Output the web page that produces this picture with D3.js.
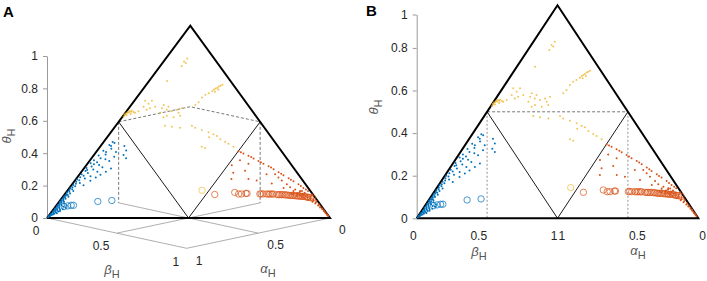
<!DOCTYPE html>
<html>
<head>
<meta charset="utf-8">
<script src="https://cdn.jsdelivr.net/npm/d3@7"></script>
<style>
  body { margin: 0; background: #fff; }
  svg text { font-family: "Liberation Sans", Arial, sans-serif; }
</style>
</head>
<body>
<svg id="chart" width="707" height="281"></svg>
<script>
// ---- data: points on the simplex alpha + beta + theta = 1 ----
// blue wing (read as beta, theta; alpha = 1 - beta - theta)
const blueTheta = [
  .004,.008,.010,.012,.015,.016,.018,.020,.022,.024,.026,.028,.030,.032,.034,.036,.038,.040,.042,.044,
  .046,.048,.050,.052,.055,.058,.060,.062,.065,.068,.070,.072,.075,.078,.080,.083,.085,.088,.090,.093,
  .096,.100,.103,.106,.110,.113,.116,.120,.124,.128,.132,.136,.140,.145,.150,
  .025,.035,.045,.055,.065,
  .155,.160,.165,.170,.172,.178,.182,.188,.194,.196,.200,.205,.210,.212,.217,.220,.225,.228,.234,.241,
  .241,.245,.249,.252,.257,.260,.264,.268,.275,.280,.285,.290,.296,.300,.305,.311,.311,.319,.325,.327,
  .330,.343,.343,.350,.351,.360,.374,.374,.380,.390,.395
];
const blueBeta = [
  .002,.003,.006,.002,.008,.004,.012,.006,.015,.003,.010,.018,.006,.013,.022,.004,.009,.016,.025,.006,
  .012,.020,.003,.009,.015,.028,.005,.011,.019,.004,.008,.014,.022,.006,.011,.003,.017,.007,.012,.004,
  .009,.015,.005,.010,.020,.004,.008,.013,.006,.017,.004,.010,.022,.006,.013,
  .022,.028,.033,.038,.036,
  .004,.009,.016,.043,.006,.012,.024,.008,.055,.015,.005,.030,.066,.010,.044,.018,.075,.007,.026,.056,
  .086,.012,.016,.036,.096,.008,.062,.022,.045,.024,.010,.030,.070,.014,.052,.032,.122,.076,.018,.105,
  .040,.035,.070,.022,.102,.045,.037,.084,.028,.041,.032
];
const blueCircleTheta = [.060, .063, .066, .066, .086, .091];
const blueCircleBeta  = [.030, .041, .052, .060, .136, .183];

// orange wing (read as alpha, theta; beta = 1 - alpha - theta)
const orangeAlpha = [
  .152,.140,.128,.117,.106,.096,.084,.074,.064,.055,.044,.035,.025,.017,.008,.004,
  .146,.122,.101,.079,.059,.040,.021,.012,
  .170,.212,.149,.179,.226,.248,.188,.163,.112,.082,.078,.074,.117,.066,.062,.050,.087,.036,
  .030,.040,.025,.035,.020,.045,.030,.015,.025,.040,.020,.010,.030,.015,.005,.020,.010,.015,.005,.010,
  .004,.008,.003,.005,.002,.004,.002,.003,.001,.002,.001,
  .050,.060,.055,.065,.070,.045,.050,.060,.035,.075
];
const orangeTheta = [
  .347,.336,.324,.310,.297,.282,.269,.254,.238,.222,.207,.191,.175,.156,.141,.122,
  .342,.317,.290,.262,.230,.199,.166,.148,
  .300,.274,.282,.246,.235,.203,.203,.195,.227,.227,.211,.195,.180,.175,.160,.148,.156,.141,
  .140,.135,.130,.125,.120,.118,.115,.110,.108,.105,.100,.098,.095,.090,.088,.085,.080,.075,.070,.065,
  .060,.055,.050,.045,.040,.035,.030,.025,.020,.015,.010,
  .130,.140,.125,.130,.120,.110,.120,.115,.120,.125
];
const orangeCircleAlpha = [
  .347,.271,.261,.251,.234,.230,.186,.181,.174,.162,.156,.150,.144,.139,.128,.122,.117,.111,.105,.099,
  .094,.088,.083,.077,.072,.066,.061,.055,.050,.044,.038,.033,.028,.023,.018,.010
];
const orangeCircleTheta = [
  .122,.133,.125,.125,.128,.128,.125,.126,.125,.125,.124,.125,.124,.125,.122,.121,.122,.121,.122,.120,
  .120,.118,.117,.117,.117,.116,.115,.114,.113,.112,.113,.111,.109,.107,.106,.103
];

// yellow group (alpha, theta)
const yellowAlpha = [
  .469,.462,.454,.443,.434,.425,.455,.437,.422,.460,.448,.440,.430,
  .373,.352,.348,.354,.370,.328,.298,.312,.299,.285,.263,.265,.241,.267,.294,.314,.330,.403,.419,.332,.330,.285,
  .346,.325,.298,.251,.245,.227,.220,.209,.197,.189,.185,.175,.168,.158,.270,.262,
  .186,.167,.143,.124,.108,.090,.080,.072,.064,.055,.047,.038,.065,.082,
  .095,.114,.134,.224,.112
];
const yellowTheta = [
  .527,.536,.544,.551,.555,.558,.534,.541,.551,.538,.546,.548,.552,
  .579,.610,.594,.571,.563,.610,.587,.571,.563,.555,.563,.547,.571,.532,.524,.532,.524,.555,.547,.579,.547,.579,
  .480,.474,.469,.480,.469,.458,.420,.446,.435,.427,.410,.396,.386,.371,.371,.364,
  .587,.602,.626,.641,.649,.660,.668,.673,.677,.684,.688,.693,.668,.657,
  .829,.814,.790,.712,.806
];
const yellowCircleAlpha = [.381];
const yellowCircleTheta = [.144];

const thetaTicks = [0, 0.2, 0.4, 0.6, 0.8, 1];
const wingTicks = [0, 0.5, 1];

const BLUE = "#0072BD", ORANGE = "#D95319", YELLOW = "#EDB120";
const TEXT = "#262626";

// build {b, a, t} points
const fromBeta = (bs, ts) => bs.map((b, i) => ({ b, t: ts[i], a: 1 - b - ts[i] }));
const fromAlpha = (as, ts) => as.map((a, i) => ({ a, t: ts[i], b: 1 - a - ts[i] }));

const series = [
  { pts: fromBeta(blueBeta, blueTheta), color: BLUE, circle: false, op: 1 },
  { pts: fromAlpha(orangeAlpha, orangeTheta), color: ORANGE, circle: false, op: 1 },
  { pts: fromAlpha(yellowAlpha, yellowTheta), color: YELLOW, circle: false, op: 0.75 },
  { pts: fromBeta(blueCircleBeta, blueCircleTheta), color: BLUE, circle: true, op: 0.85 },
  { pts: fromAlpha(orangeCircleAlpha, orangeCircleTheta), color: ORANGE, circle: true, op: 0.85 },
  { pts: fromAlpha(yellowCircleAlpha, yellowCircleTheta), color: YELLOW, circle: true, op: 0.75 },
];

// ---- projections ----
// panel A: oblique 3D view (beta, alpha on the floor, theta up)
const viewA = { ox: 190.3, oy: 187.7, bx: 139.7, by: 30.3, ax: -143.3, ay: 30.3, tz: 162 };
const projA = (b, a, t) => [
  viewA.ox + viewA.bx * b + viewA.ax * a,
  viewA.oy + viewA.by * b + viewA.ay * a - viewA.tz * t
];
// panel B: front view, horizontal = beta - alpha
const sxB = d3.scaleLinear().domain([-1, 1]).range([416.7, 698.3]);
const tyB = d3.scaleLinear().domain([0, 1]).range([218.3, 5.3]);
const projB = (b, a, t) => [sxB(b - a), tyB(t)];

// frame vertices (beta, alpha, theta)
const V = {
  L: [0, 1, 0], R: [1, 0, 0], T: [0, 0, 1],
  mL: [0, .5, .5], mR: [.5, 0, .5], mB: [.5, .5, 0], mT: [0, 0, .5],
  fL: [0, .5, 0], fR: [.5, 0, 0], fBe: [.5, 1, 0], fAl: [1, .5, 0], F: [1, 1, 0]
};

const svg = d3.select("#chart");

function seg(g, proj, path, style) {
  const line = d3.line();
  g.append("path")
    .attr("d", line(path.map(k => proj(...V[k]))))
    .attr("fill", "none")
    .attr("stroke", style.stroke)
    .attr("stroke-width", style.width)
    .attr("stroke-dasharray", style.dash || null)
    .attr("stroke-linejoin", "miter");
}

function drawDots(g, proj) {
  series.forEach(s => {
    g.selectAll(null)
      .data(s.pts)
      .enter().append("circle")
      .attr("cx", d => proj(d.b, d.a, d.t)[0])
      .attr("cy", d => proj(d.b, d.a, d.t)[1])
      .attr("r", s.circle ? 3.2 : 1.0)
      .attr("fill", s.circle ? "none" : s.color)
      .attr("stroke", s.circle ? s.color : "none")
      .attr("stroke-width", 0.85)
      .attr("opacity", s.op);
  });
}

function subLabel(g, x, y, greek, rotate) {
  const t = g.append("text")
    .attr("transform", `translate(${x},${y})` + (rotate ? " rotate(-90)" : ""))
    .attr("text-anchor", "middle")
    .attr("fill", "#555")
    .attr("font-size", 13);
  t.append("tspan").attr("font-style", "italic").text(greek);
  t.append("tspan").attr("dy", 4).attr("font-size", 11).text("H");
}

const gray = { stroke: "#9a9a9a", width: 0.8 };
const dashed = { stroke: "#555", width: 0.8, dash: "3,2" };
const thin = { stroke: "#000", width: 0.9 };
const thick = { stroke: "#000", width: 2 };

// ================= Panel A =================
const gA = svg.append("g");

// floor / axis lines
seg(gA, projA, ["L", "F", "R"], gray);
seg(gA, projA, ["fL", "mB"], gray);
seg(gA, projA, ["fBe", "mB"], gray);
seg(gA, projA, ["fR", "mB"], gray);
seg(gA, projA, ["fAl", "mB"], gray);
// dashed projections
seg(gA, projA, ["mL", "mT", "mR"], dashed);
seg(gA, projA, ["mL", "fL"], dashed);
seg(gA, projA, ["mR", "fR"], dashed);

// theta axis
const thetaA = d3.scaleLinear().domain([0, 1]).range([projA(...V.L)[1], projA(0, 1, 1)[1]]);
const axA = gA.append("g")
  .attr("transform", `translate(${projA(...V.L)[0]},0)`)
  .call(d3.axisLeft(thetaA).tickValues(thetaTicks).tickSize(4).tickSizeOuter(0)
    .tickPadding(5).tickFormat(d3.format("~g")))
  .attr("font-size", 12).attr("font-family", null);
axA.select(".domain").attr("stroke", "#9a9a9a");
axA.selectAll(".tick line").attr("stroke", "#9a9a9a");
axA.selectAll(".tick text").attr("fill", TEXT);

// medial and outer triangle
seg(gA, projA, ["mL", "mB", "mR"], thin);
seg(gA, projA, ["L", "T", "R", "L"], thick);

drawDots(gA, projA);

// floor tick labels
wingTicks.forEach(v => {
  const pb = projA(v, 1, 0);
  gA.append("text").attr("x", pb[0] - 7.5).attr("y", pb[1] + 13).attr("dy", "0.35em")
    .attr("text-anchor", "end").attr("font-size", 12).attr("fill", TEXT).text(d3.format("~g")(v));
  const pa = projA(1, v, 0);
  gA.append("text").attr("x", pa[0] + 9).attr("y", pa[1] + 12).attr("dy", "0.35em")
    .attr("text-anchor", "start").attr("font-size", 12).attr("fill", TEXT).text(d3.format("~g")(v));
});

subLabel(gA, 112, 273.5, "β");
subLabel(gA, 268, 273, "α");
subLabel(gA, 11, 136, "θ", true);

gA.append("text").attr("x", 3).attr("y", 17).attr("font-size", 15).attr("font-weight", "bold")
  .attr("fill", "#000").text("A");

// ================= Panel B =================
const gB = svg.append("g");

seg(gB, projB, ["mL", "mT", "mR"], dashed);
seg(gB, projB, ["mL", "fL"], { stroke: "#777", width: 0.8, dash: "2,2" });
seg(gB, projB, ["mR", "fR"], { stroke: "#777", width: 0.8, dash: "2,2" });

// theta axis (the top tick sits a little lower in the source figure)
const thetaB = d3.scaleLinear().domain([0, 0.8, 1]).range([tyB(0), tyB(0.8), 14.5]);
const axB = gB.append("g")
  .attr("transform", `translate(${sxB(-1)},0)`)
  .call(d3.axisLeft(thetaB).tickValues(thetaTicks).tickSize(4).tickSizeOuter(0)
    .tickPadding(5).tickFormat(d3.format("~g")))
  .attr("font-size", 12).attr("font-family", null);
axB.select(".domain").attr("stroke", "#9a9a9a");
axB.selectAll(".tick line").attr("stroke", "#9a9a9a");
axB.selectAll(".tick text").attr("fill", TEXT);

seg(gB, projB, ["mL", "mB", "mR"], thin);
seg(gB, projB, ["L", "T", "R", "L"], thick);

drawDots(gB, projB);

wingTicks.forEach(v => {
  const pb = projB(v, 1, 0);
  gB.append("text").attr("x", pb[0]).attr("y", tyB(0) + 17).attr("dy", "0.35em")
    .attr("text-anchor", "end").attr("font-size", 12).attr("fill", TEXT).text(d3.format("~g")(v));
  const pa = projB(1, v, 0);
  gB.append("text").attr("x", pa[0] + 1).attr("y", tyB(0) + 17).attr("dy", "0.35em")
    .attr("text-anchor", "start").attr("font-size", 12).attr("fill", TEXT).text(d3.format("~g")(v));
});

subLabel(gB, 479, 256, "β");
subLabel(gB, 638, 255, "α");
subLabel(gB, 378, 107, "θ", true);

gB.append("text").attr("x", 366).attr("y", 16).attr("font-size", 15).attr("font-weight", "bold")
  .attr("fill", "#000").text("B");
</script>
</body>
</html>
